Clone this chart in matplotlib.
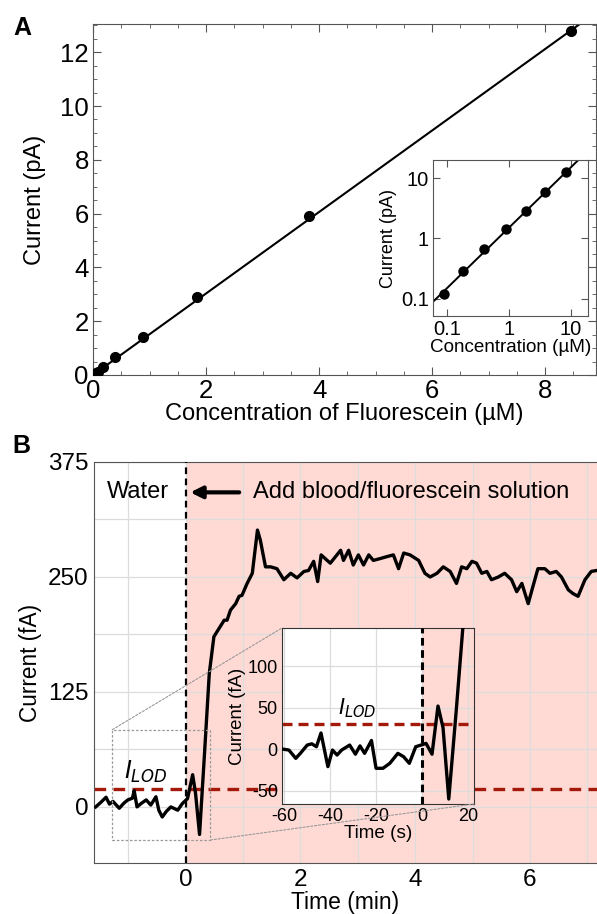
import numpy as np
import matplotlib
matplotlib.use("Agg")
import matplotlib.pyplot as plt
from matplotlib.patches import Rectangle, ConnectionPatch
from matplotlib.ticker import MultipleLocator, FixedLocator, NullLocator, FixedFormatter

plt.rcParams['font.family'] = ['Liberation Sans', 'DejaVu Sans']
plt.rcParams['axes.unicode_minus'] = False

# ---------------- data ----------------
conc_uM = [0.09, 0.18, 0.39, 0.88, 1.84, 3.83, 8.45]
current_pA = [0.12, 0.29, 0.67, 1.41, 2.90, 5.93, 12.8]
fit_slope = 1.515  # pA per uM

time_min = [-1.57, -1.48, -1.39, -1.33, -1.27, -1.16, -1.08, -1.01, -0.93, -0.90, -0.85,
            -0.78, -0.69, -0.61, -0.52, -0.47, -0.41, -0.34, -0.26, -0.14, -0.06, 0.03,
            0.12, 0.17, 0.24, 0.32, 0.41, 0.49, 0.58, 0.67, 0.72, 0.78, 0.87, 0.93, 0.98,
            1.07, 1.16, 1.25, 1.30, 1.39, 1.48, 1.59, 1.71, 1.83, 1.94, 2.06, 2.14, 2.23,
            2.30, 2.36, 2.43, 2.52, 2.61, 2.70, 2.75, 2.84, 2.92, 3.01, 3.10, 3.19, 3.27,
            3.39, 3.50, 3.62, 3.71, 3.80, 3.91, 4.06, 4.17, 4.26, 4.38, 4.49, 4.61, 4.72,
            4.81, 4.90, 4.99, 5.07, 5.16, 5.25, 5.33, 5.45, 5.56, 5.68, 5.77, 5.86, 5.97,
            6.05, 6.14, 6.26, 6.35, 6.46, 6.55, 6.67, 6.75, 6.84, 6.96, 7.07, 7.16]
current_fA = [0, 5, 10.5, 3, 6, -1.5, 4, 7.6, 9.5, 17.7, 0,
              3.6, 7.6, 2, 11, -3.6, -11, -5, 0, -3.6, 3.6, 9,
              35, 15, -30, 51, 145, 185, 194, 203, 203, 214, 221, 229, 230,
              243, 254, 301, 290, 261, 261, 259, 247, 254, 249, 256, 257, 267,
              245, 274, 270, 265, 272, 279, 268, 279, 263, 274, 263, 274, 268,
              270, 272, 274, 259, 276, 274, 268, 254, 250, 254, 261, 256, 243,
              261, 259, 267, 265, 254, 256, 247, 250, 254, 247, 234, 243, 221,
              239, 259, 259, 254, 256, 250, 236, 232, 229, 247, 256, 257]
lod_main_fA = 20

inset_time_s = [-62.8, -58, -55, -53, -50, -48, -46, -44, -41, -39, -37, -35, -31.5, -29,
                -27, -25, -22, -20, -17, -14, -10.5, -8, -5.5, -2.7, -0.4, 1.8, 4.4,
                7, 9.2, 11.7, 15, 17.8]
inset_current_fA = [1, -1, -11, -5, 5, 6.5, 3, 19.5, -21, -1, -7, -1, 5, -6,
                    4, -5, 10.5, -23, -23, -17, -5, -9, -17, 3, 5, 7, -6,
                    52, 26, -60, 48, 145]
lod_inset_fA = 30

# ---------------- figure ----------------
W, H = 597, 914
fig = plt.figure(figsize=(W / 100, H / 100), dpi=100)

def frac(l, t, r, b):
    return [l / W, 1 - b / H, (r - l) / W, (b - t) / H]

spine_col = '#555555'

# ---- Panel A ----
axA = fig.add_axes(frac(93, 24, 596, 375))
xx = np.array([0, 8.9])
axA.plot(xx, fit_slope * xx, color='black', lw=1.5, zorder=2)
axA.plot(conc_uM, current_pA, 'o', color='black', ms=7, zorder=3)
axA.plot([0.05], [0.06], 'o', color='black', ms=7, zorder=3)
axA.set_xlim(0, 8.9)
axA.set_ylim(0, 13.05)
axA.xaxis.set_major_locator(MultipleLocator(2))
axA.xaxis.set_minor_locator(MultipleLocator(0.5))
axA.yaxis.set_major_locator(MultipleLocator(2))
axA.yaxis.set_minor_locator(MultipleLocator(0.5))
axA.tick_params(which='both', direction='in', top=True, right=True, color=spine_col)
axA.tick_params(which='major', length=6, labelsize=18.5, pad=3)
axA.tick_params(which='minor', length=3)
for s in axA.spines.values():
    s.set_color(spine_col)
axA.set_ylabel('Current (pA)', fontsize=17, labelpad=10)
axA.set_xlabel('Concentration of Fluorescein (µM)', fontsize=17, labelpad=0)
fig.text(22 / W, 1 - 28 / H, 'A', fontsize=18, fontweight='bold', ha='center', va='center')

# inset A
axAi = fig.add_axes(frac(433, 160, 588, 316))
xl = np.array([0.059, 18.8])
axAi.plot(xl, fit_slope * xl, color='black', lw=1.4)
axAi.plot(conc_uM, current_pA, 'o', color='black', ms=6.5)
axAi.set_xscale('log')
axAi.set_yscale('log')
axAi.set_xlim(0.059, 18.8)
axAi.set_ylim(0.052, 19.9)
axAi.xaxis.set_major_locator(FixedLocator([0.1, 1, 10]))
axAi.xaxis.set_major_formatter(FixedFormatter(['0.1', '1', '10']))
axAi.yaxis.set_major_locator(FixedLocator([0.1, 1, 10]))
axAi.yaxis.set_major_formatter(FixedFormatter(['0.1', '1', '10']))
axAi.xaxis.set_minor_locator(NullLocator())
axAi.yaxis.set_minor_locator(NullLocator())
axAi.tick_params(which='both', direction='in', top=True, right=True, color=spine_col,
                 length=5, labelsize=14.5, pad=3)
for s in axAi.spines.values():
    s.set_color(spine_col)
axAi.set_ylabel('Current (pA)', fontsize=13, labelpad=3)
axAi.set_xlabel('Concentration (µM)', fontsize=13.6, labelpad=0)

# ---- Panel B ----
pink = '#ffdad4'
red = '#a31a0b'
grid_col = '#dcdcdc'
axB = fig.add_axes(frac(94, 462, 597, 863))
axB.set_xlim(-1.6, 7.17)
axB.set_ylim(-61, 375)
axB.axvspan(0, 7.17, color=pink, zorder=0, lw=0)
axB.xaxis.set_major_locator(FixedLocator([0, 2, 4, 6]))
axB.xaxis.set_minor_locator(FixedLocator([-1, 1, 3, 5, 7]))
axB.yaxis.set_major_locator(FixedLocator([0, 125, 250, 375]))
axB.yaxis.set_minor_locator(FixedLocator([62.5, 187.5, 312.5]))
axB.grid(True, which='both', color=grid_col, lw=0.9, zorder=0.5)
axB.set_axisbelow(True)
axB.tick_params(which='both', length=0, labelsize=17.5, pad=4)
for s in axB.spines.values():
    s.set_color(spine_col)
axB.spines['right'].set_visible(False)
axB.plot(time_min, current_fA, color='black', lw=2.4, zorder=3)
axB.axvline(0, color='black', lw=1.6, ls=(0, (3, 2)), zorder=4)
axB.axhline(lod_main_fA, color=red, lw=2.4, ls=(0, (3.5, 2.2)), zorder=2.5)
axB.set_ylabel('Current (fA)', fontsize=16.3, labelpad=4)
axB.set_xlabel('Time (min)', fontsize=16.5, labelpad=0)
axB.text(-0.83, 342, 'Water', fontsize=17, ha='center', va='center', zorder=5)
axB.annotate('', xy=(0.03, 342), xytext=(0.98, 342),
             arrowprops=dict(arrowstyle='-|>,head_length=0.7,head_width=0.35',
                             color='black', lw=3), zorder=5)
axB.text(1.18, 342, 'Add blood/fluorescein solution', fontsize=17, ha='left', va='center', zorder=5)
axB.text(-0.7, 38, r'$I_{LOD}$', fontsize=17, ha='center', va='center', zorder=5)
fig.text(21 / W, 1 - 446 / H, 'B', fontsize=18, fontweight='bold', ha='center', va='center')

# zoom box
box_x0, box_x1, box_y0, box_y1 = -1.28, 0.43, -36, 84
axB.add_patch(Rectangle((box_x0, box_y0), box_x1 - box_x0, box_y1 - box_y0, fill=False,
                        ec='#999999', lw=0.9, ls=(0, (2, 1.5)), zorder=4))

# inset B
axBi = fig.add_axes(frac(282, 628, 474, 804))
axBi.set_xlim(-61, 22.7)
axBi.set_ylim(-66, 146)
axBi.set_facecolor('white')
axBi.axvspan(0, 22.7, color=pink, zorder=0, lw=0)
axBi.xaxis.set_major_locator(FixedLocator([-60, -40, -20, 0, 20]))
axBi.yaxis.set_major_locator(FixedLocator([-50, 0, 50, 100]))
axBi.grid(True, color=grid_col, lw=0.9)
axBi.set_axisbelow(True)
axBi.tick_params(length=0, labelsize=13, pad=3)
for s in axBi.spines.values():
    s.set_color('#333333')
axBi.plot(inset_time_s, inset_current_fA, color='black', lw=2.4, zorder=3, clip_on=True)
axBi.axvline(0, color='black', lw=2.2, ls=(0, (2.5, 1.5)), zorder=4)
axBi.axhline(lod_inset_fA, color=red, lw=2.4, ls=(0, (3, 1.8)), zorder=2.5)
axBi.text(-28.4, 49, r'$I_{LOD}$', fontsize=15, ha='center', va='center')
axBi.set_ylabel('Current (fA)', fontsize=13.4, labelpad=1)
axBi.set_xlabel('Time (s)', fontsize=13.6, labelpad=0)

for xyA, xyB in [((box_x0, box_y1), (0, 1)), ((box_x1, box_y0), (1, 0))]:
    cp = ConnectionPatch(xyA=xyA, coordsA=axB.transData, xyB=xyB, coordsB=axBi.transAxes,
                         color='#999999', lw=0.8, ls=(0, (2, 1.5)), zorder=1)
    fig.add_artist(cp)

fig.savefig('out.png', dpi=100)
